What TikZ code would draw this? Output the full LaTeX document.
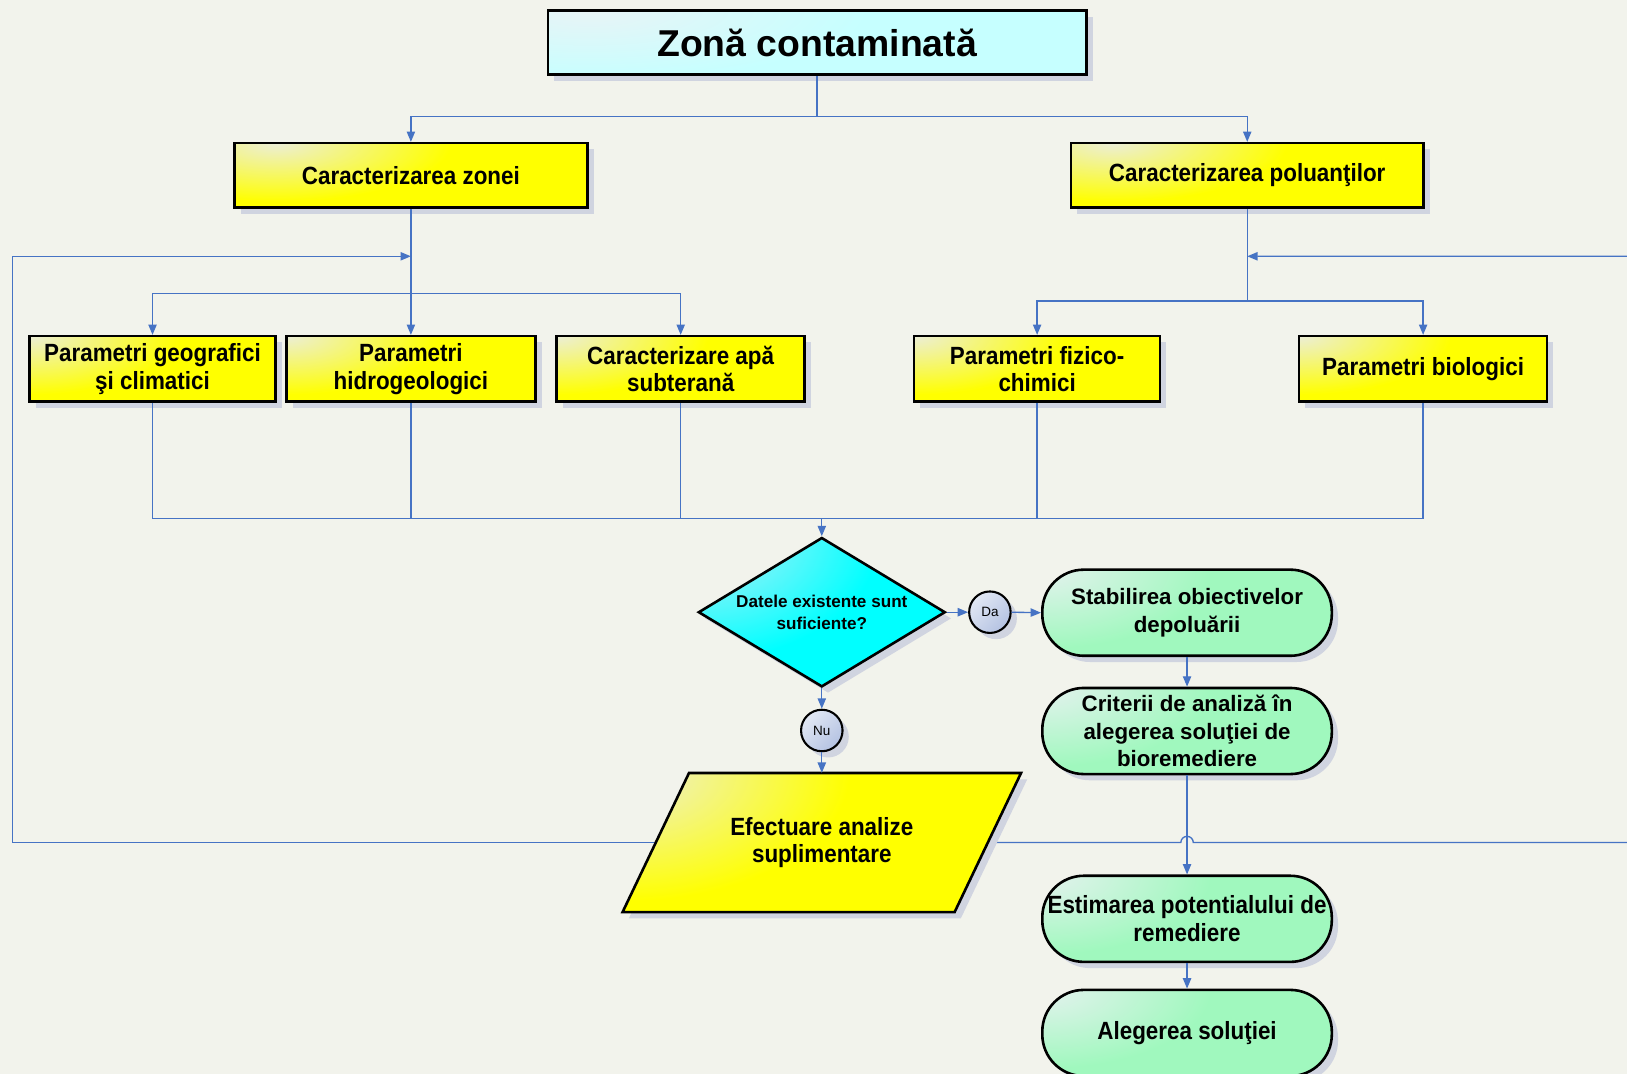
\documentclass[tikz,border=0pt]{standalone}
\usepackage{fontspec}
\setmainfont{Liberation Sans}
\newfontfamily\narrowfam[FakeStretch=0.9]{Liberation Sans}
\usetikzlibrary{arrows.meta,shapes.geometric,shadows,calc}
\pgfdeclarelayer{back}\pgfdeclarelayer{lines}\pgfdeclarelayer{shapes}
\pgfsetlayers{back,lines,shapes,main}
\definecolor{bgc}{RGB}{242,243,236}
\definecolor{lnc}{RGB}{70,115,196}
\definecolor{shc}{RGB}{208,212,224}
\definecolor{ylite}{RGB}{236,238,214}
\definecolor{yful}{RGB}{255,255,0}
\definecolor{clite}{RGB}{232,244,246}
\definecolor{cful}{RGB}{198,255,255}
\definecolor{dlite}{RGB}{190,238,246}
\definecolor{dful}{RGB}{0,255,255}
\definecolor{glite}{RGB}{228,242,238}
\definecolor{gful}{RGB}{160,248,190}
\definecolor{blite}{RGB}{226,232,244}
\definecolor{bful}{RGB}{180,194,226}
\colorlet{glowin}{white}
\colorlet{glowout}{white}
\pgfdeclareradialshading[glowin,glowout]{glowshade}{\pgfpoint{0bp}{0bp}}{%
  color(0bp)=(glowin); color(14bp)=(glowout); color(50bp)=(glowout)}
\newcommand\fnarrow{\narrowfam\bfseries\fontsize{24}{26.5}\selectfont}
\newcommand\fwide{\bfseries\fontsize{21.5}{26.5}\selectfont}
\tikzset{
  conn/.style={draw=lnc, line width=1.3pt},
  arr/.style={conn, -{Triangle[length=10pt,width=8pt]}},
  shd/.style={drop shadow={shadow xshift=6pt, shadow yshift=-6pt, fill=shc, opacity=1}},
  glow/.style n args={4}{fill=#2, path picture={\colorlet{glowin}{#1}\colorlet{glowout}{#2}%
      \shade[shading=glowshade]
      (path picture bounding box.north west) ellipse [x radius=#3, y radius=#4];}},
  boxbase/.style={draw=black, line width=2.5pt, inner sep=0pt, align=center, shd},
  tbox/.style={boxbase, rectangle, glow={clite}{cful}{440pt}{120pt},
    minimum width=519, minimum height=62, font=\bfseries\fontsize{36}{40}\selectfont},
  ybox/.style={boxbase, rectangle, glow={ylite}{yful}{260pt}{100pt}, font=\fnarrow},
  gbox/.style={boxbase, rectangle, rounded corners=40pt, glow={glite}{gful}{290pt}{135pt},
    minimum width=279, minimum height=83},
  dbox/.style={boxbase, diamond, aspect=1.65, glow={dlite}{dful}{310pt}{210pt},
    minimum width=238, minimum height=144,
    font=\bfseries\fontsize{16.5}{21}\selectfont},
  cbox/.style={boxbase, circle, line width=2pt, top color=blite, bottom color=bful,
    shading angle=45, minimum size=40, font=\fontsize{13}{15}\selectfont,
    drop shadow={shadow xshift=4pt, shadow yshift=-4pt, fill=shc, opacity=1}},
}
\begin{document}
\begin{tikzpicture}[x=1pt,y=-1pt]
\useasboundingbox (0,0) rectangle (1568,1035);
\begin{pgfonlayer}{back}
  \fill[bgc] (0,0) rectangle (1568,1035);
\end{pgfonlayer}

% nodes
\node[tbox] (title) at (787.5,41) {Zonă contaminată};
\node[ybox, minimum width=340, minimum height=62] (cz) at (396,169) {Caracterizarea zonei};
\node[ybox, minimum width=340, minimum height=62] (cp) at (1202,169) {Caracterizarea poluanţilor};
\node[ybox, minimum width=237, minimum height=63] (pg) at (147,355.5) {Parametri geografici\\şi climatici};
\node[ybox, minimum width=240, minimum height=63] (ph) at (396,355.5) {Parametri\\hidrogeologici};
\node[ybox, minimum width=239, minimum height=63] (ca) at (656,355.5) {Caracterizare apă\\subterană};
\node[ybox, minimum width=237, minimum height=63] (pf) at (999.5,355.5) {Parametri fizico-\\chimici};
\node[ybox, minimum width=239, minimum height=63] (pb) at (1371.5,355.5) {Parametri biologici};

\node[dbox] (dm) at (792,590) {Datele existente sunt\\suficiente?};
\node[cbox] (da) at (954,590) {Da};
\node[cbox] (nu) at (792,704) {Nu};

% parallelogram
\begin{pgfonlayer}{shapes}
  \fill[shc] (670,751) -- (990,751) -- (926,885) -- (606,885) -- cycle;
  \draw[draw=black, line width=2.5pt, glow={ylite}{yful}{390pt}{220pt}]
    (664,745) -- (984,745) -- (920,879) -- (600,879) -- cycle;
\end{pgfonlayer}
\node[inner sep=0pt, minimum width=256, minimum height=134, align=center, font=\fnarrow]
  (ea) at (792,812) {Efectuare analize\\suplimentare};

\node[gbox, font=\fwide] (st) at (1144,590.5) {Stabilirea obiectivelor\\depoluării};
\node[gbox, font=\fwide] (cr) at (1144,704.5) {Criterii de analiză în\\alegerea soluţiei de\\bioremediere};
\node[gbox, font=\fnarrow] (es) at (1144,885.5) {Estimarea potentialului de\\remediere};
\node[gbox, font=\fnarrow] (al) at (1144,995.5) {Alegerea soluţiei};

% junction coordinates
\coordinate (ht) at (787.5,112);
\coordinate (hz) at (396,283);
\coordinate (hp) at (1202,290);
\coordinate (hb) at (792,500);
\coordinate (jl) at (396,247);
\coordinate (jr) at (1202,247);
\coordinate (lc) at (12,812);
\coordinate (rc) at (1600,812);

% connectors
\draw[conn] (title.south) -- (ht);
\draw[arr] (ht) -| (cz.north);
\draw[arr] (ht) -| (cp.north);
\draw[arr] (cz.south) -- (ph.north);
\draw[arr] (hz) -| (pg.north);
\draw[arr] (hz) -| (ca.north);
\draw[conn] (cp.south) -- (hp);
\draw[arr] (hp) -| (pf.north);
\draw[arr] (hp) -| (pb.north);

\draw[conn] (pg.south) |- (hb);
\draw[conn] (pb.south) |- (hb);
\draw[conn] (ph.south) -- (ph.south |- hb);
\draw[conn] (ca.south) -- (ca.south |- hb);
\draw[conn] (pf.south) -- (pf.south |- hb);
\draw[arr] (hb) -- (dm.north);

\draw[arr] (dm.east) -- (da.west);
\draw[arr] (da.east) -- (st.west);
\draw[arr] (dm.south) -- (nu.north);
\draw[arr] (nu.south) -- (ea.north);
\draw[arr] (st.south) -- (cr.north);
\draw[arr] (cr.south) -- (es.north);
\draw[arr] (es.south) -- (al.north);

\begin{pgfonlayer}{lines}
  \draw[arr] (ea.center) -- (lc) |- (jl);
  \draw[arr] (ea.center) -- (1138,812) arc[start angle=180, end angle=360, radius=6] -- (rc) |- (jr);
\end{pgfonlayer}
\end{tikzpicture}
\end{document}
